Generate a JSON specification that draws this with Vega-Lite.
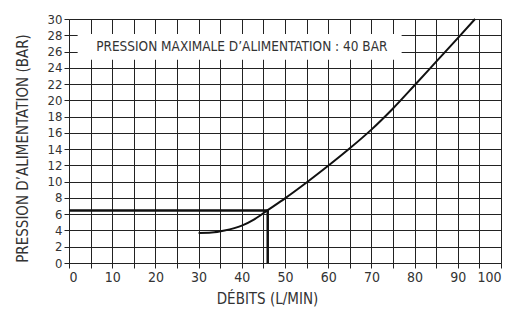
{
  "$schema": "https://vega.github.io/schema/vega-lite/v6.json",
  "width": 432,
  "height": 244,
  "autosize": "none",
  "padding": {"left": 69, "top": 19, "right": 12, "bottom": 51},
  "background": "white",
  "config": {
    "view": {"stroke": null},
    "font": "DejaVu Sans Condensed, Liberation Sans Narrow, sans-serif",
    "axis": {
      "gridColor": "#222222",
      "gridOpacity": 1,
      "gridWidth": 1,
      "domainColor": "#222222",
      "domainWidth": 1,
      "tickColor": "#222222",
      "tickSize": 5,
      "labelColor": "#333333",
      "titleColor": "#333333",
      "titleFontWeight": "normal",
      "labelFont": "DejaVu Sans Condensed, Liberation Sans Narrow, sans-serif",
      "titleFont": "DejaVu Sans Condensed, Liberation Sans Narrow, sans-serif"
    }
  },
  "datasets": {
    "curve": [
      {"x": 30, "y": 3.7},
      {"x": 33, "y": 3.75},
      {"x": 36, "y": 4.0},
      {"x": 40, "y": 4.6},
      {"x": 43, "y": 5.4},
      {"x": 46, "y": 6.5},
      {"x": 50, "y": 7.95},
      {"x": 55, "y": 9.9},
      {"x": 60, "y": 11.95},
      {"x": 65, "y": 14.1},
      {"x": 70, "y": 16.4},
      {"x": 75, "y": 19.0},
      {"x": 80, "y": 21.85},
      {"x": 85, "y": 24.75},
      {"x": 90, "y": 27.65},
      {"x": 94, "y": 30}
    ],
    "guide": [
      {"x": 0, "y": 6.45, "order": 1},
      {"x": 46, "y": 6.45, "order": 2},
      {"x": 46, "y": 0, "order": 3}
    ],
    "box": [{"x": 2, "x2": 77, "y": 25, "y2": 28.15}],
    "note": [{"x": 40, "y": 26.55, "label": "PRESSION MAXIMALE D’ALIMENTATION : 40 BAR"}]
  },
  "encoding": {
    "x": {
      "field": "x", "type": "quantitative",
      "scale": {"domain": [0, 100], "nice": false, "zero": false},
      "axis": {
        "values": [0,5,10,15,20,25,30,35,40,45,50,55,60,65,70,75,80,85,90,95,100],
        "labelExpr": "datum.value % 10 == 0 ? datum.label : ''",
        "labelFontSize": 14,
        "labelPadding": 2,
        "title": "DÉBITS (L/MIN)",
        "titleFontSize": 15,
        "titleX": 198,
        "titleY": 40,
        "titleBaseline": "alphabetic",
        "grid": true
      }
    },
    "y": {
      "field": "y", "type": "quantitative",
      "scale": {"domain": [0, 30], "nice": false, "zero": false},
      "axis": {
        "values": [0,2,4,6,8,10,12,14,16,18,20,22,24,26,28,30],
        "labelFontSize": 13,
        "labelPadding": 2,
        "title": "PRESSION D’ALIMENTATION (BAR)",
        "titleFontSize": 15,
        "titleX": -47,
        "titleY": 129,
        "titleAngle": -90,
        "titleAlign": "center",
        "titleBaseline": "middle",
        "grid": true
      }
    }
  },
  "layer": [
    {
      "data": {"name": "box"},
      "mark": {"type": "rect", "color": "white", "opacity": 1},
      "encoding": {
        "x2": {"field": "x2"},
        "y2": {"field": "y2"}
      }
    },
    {
      "data": {"name": "note"},
      "mark": {"type": "text", "fontSize": 13.5, "color": "#333333", "align": "center", "baseline": "middle"},
      "encoding": {
        "text": {"field": "label"}
      }
    },
    {
      "data": {"name": "guide"},
      "mark": {"type": "line", "color": "#111111", "strokeWidth": 2.5},
      "encoding": {
        "order": {"field": "order"}
      }
    },
    {
      "data": {"name": "curve"},
      "mark": {"type": "line", "color": "#111111", "strokeWidth": 2, "interpolate": "monotone"},
      "encoding": {}
    }
  ]
}
